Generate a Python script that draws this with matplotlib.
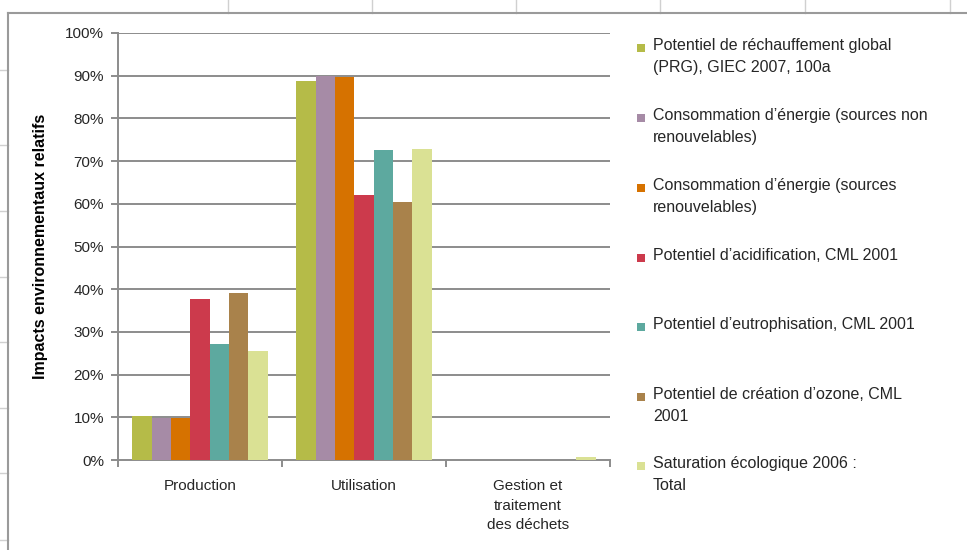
import matplotlib
matplotlib.use("Agg")
import matplotlib.pyplot as plt
from matplotlib.lines import Line2D
from matplotlib.patches import Rectangle
import numpy as np

plt.rcParams['font.family'] = ['Liberation Sans', 'DejaVu Sans']

categories = ["Production", "Utilisation", "Gestion et\ntraitement\ndes déchets"]
series_names = [
    "Potentiel de réchauffement global\n(PRG), GIEC 2007, 100a",
    "Consommation d’énergie (sources non\nrenouvelables)",
    "Consommation d’énergie (sources\nrenouvelables)",
    "Potentiel d’acidification, CML 2001",
    "Potentiel d’eutrophisation, CML 2001",
    "Potentiel de création d’ozone, CML\n2001",
    "Saturation écologique 2006 :\nTotal",
]
values = [
    [0.102, 0.888, 0.0],
    [0.098, 0.900, 0.0],
    [0.099, 0.898, 0.0],
    [0.376, 0.620, 0.0],
    [0.271, 0.725, 0.0],
    [0.390, 0.604, 0.0],
    [0.255, 0.728, 0.008],
]
colors = ["#B5BB48", "#A68BA6", "#D67200", "#CC3A4C", "#5DA99F", "#A9824B", "#DAE194"]
yticks = [0, 0.1, 0.2, 0.3, 0.4, 0.5, 0.6, 0.7, 0.8, 0.9, 1.0]
ytick_labels = ["0%", "10%", "20%", "30%", "40%", "50%", "60%", "70%", "80%", "90%", "100%"]

W, H = 967, 550
fig = plt.figure(figsize=(W / 100, H / 100), dpi=100)
fig.patch.set_facecolor("white")

def px(x, y):
    return x / W, 1 - y / H

# spreadsheet gridlines outside the chart object
for x in [228, 372, 516, 660, 805, 950]:
    fig.add_artist(Line2D([x / W, x / W], [1, 1 - 13 / H], color="#D0D0D0", lw=1))
for y in [70, 145, 211, 277, 342, 408, 473, 540]:
    fig.add_artist(Line2D([0, 8 / W], [1 - y / H, 1 - y / H], color="#D0D0D0", lw=1))
# chart frame
fig.add_artist(Line2D([8 / W, 1], [1 - 13 / H, 1 - 13 / H], color="#9A9A9A", lw=1.5))
fig.add_artist(Line2D([8 / W, 8 / W], [1 - 13 / H, 0], color="#9A9A9A", lw=1.5))

x0, x1 = 118, 610
y0, y1 = 460, 33
ax = fig.add_axes([x0 / W, 1 - y0 / H, (x1 - x0) / W, (y0 - y1) / H])
ax.set_facecolor("none")

n_series = len(values)
n_cat = len(categories)
group = 1.0
bar_w = group / (n_series + 1.5)
xs = np.arange(n_cat) + 0.5
for i, (vals, c, name) in enumerate(zip(values, colors, series_names)):
    offs = (i - (n_series - 1) / 2) * bar_w
    ax.bar(xs + offs, vals, width=bar_w, color=c, label=name, zorder=3, linewidth=0)

ax.set_xlim(0, n_cat)
ax.set_ylim(0, 1.0)
ax.set_yticks(yticks)
ax.set_yticklabels(ytick_labels, fontsize=11, color="#262626")
for y in yticks[1:]:
    ax.axhline(y, color="#8C8C8C", lw=1.4, zorder=1)

ax.set_xticks(np.arange(n_cat + 1))
ax.set_xticklabels([])
ax.set_xticks(xs, minor=True)
ax.set_xticklabels(categories, minor=True, fontsize=11, color="#262626", linespacing=1.5, va="top")
ax.tick_params(axis="x", which="minor", length=0, pad=14)
ax.tick_params(axis="x", which="major", length=5, width=1.4, color="#8C8C8C", direction="out")
ax.tick_params(axis="y", length=5, width=1.4, color="#8C8C8C", direction="out", pad=5)

for s in ["top", "right"]:
    ax.spines[s].set_visible(False)
for s in ["left", "bottom"]:
    ax.spines[s].set_color("#8C8C8C")
    ax.spines[s].set_linewidth(1.4)

ax.set_ylabel("Impacts environnementaux relatifs", fontsize=11.5, fontweight="bold")
ax.yaxis.set_label_coords(-0.143, 0.5)

# legend
leg_first = [48, 118, 188, 258, 327, 397, 466]
for name, c, ly in zip(series_names, colors, leg_first):
    fig.add_artist(Rectangle(px(637, ly + 4), 8 / W, 8 / H, facecolor=c, edgecolor="none"))
    fig.text(653 / W, 1 - (ly - 10) / H, name, fontsize=11.5, color="#262626",
             va="top", ha="left", linespacing=1.6)

fig.savefig("out.png", dpi=100)
